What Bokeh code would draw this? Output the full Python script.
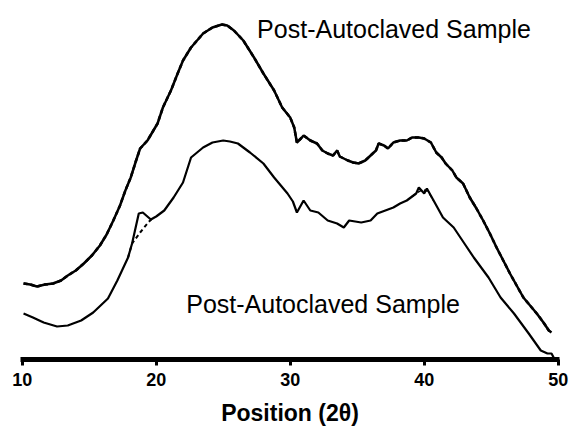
from bokeh.plotting import figure
from bokeh.models import Range1d, FixedTicker
from bokeh.core.properties import value
from bokeh.embed import file_html
from bokeh.resources import INLINE

# Upper pattern (intensity, arbitrary units)
upper_x = [10.1, 10.6, 11.1, 11.7, 12.3, 12.9, 13.4, 14.0, 14.6, 15.2, 15.8, 16.3, 16.8, 17.3, 17.7,
           18.1, 18.5, 18.8, 19.35, 20.1, 20.5, 21.1, 21.6, 22.0, 22.6, 23.5, 24.2, 24.9, 25.3, 25.8,
           26.5, 27.3, 28.0, 28.8, 29.4, 30.0, 30.3, 30.5, 30.8, 31.0, 31.5, 32.0, 32.4, 32.8, 33.2,
           33.5, 33.7, 34.3, 34.7, 35.1, 35.6, 36.0, 36.4, 36.6, 37.0, 37.3, 37.7, 38.2, 38.7, 39.1,
           39.6, 40.0, 40.5, 40.9, 41.3, 41.6, 42.1, 42.4, 42.9, 43.4, 43.9, 44.4, 44.9, 45.4, 45.9,
           46.4, 46.9, 47.4, 47.9, 48.4, 48.9, 49.3, 49.5]
upper_y = [76, 75, 73, 75, 76, 79, 84, 89, 96, 104, 114, 125, 139, 154, 169,
           182, 199, 211, 219, 236, 252, 269, 286, 299, 312, 326, 332, 335, 334, 329,
           319, 302, 286, 269, 252, 242, 232, 217, 221, 224, 219, 216, 209, 206, 204,
           209, 203, 199, 197, 196, 199, 204, 209, 216, 214, 211, 217, 219, 219, 222,
           222, 221, 217, 207, 202, 196, 189, 182, 176, 162, 151, 139, 126, 112, 99,
           86, 74, 62, 54, 46, 37, 29, 27]

# Lower pattern
lower_x = [10.1, 10.8, 11.6, 12.6, 13.4, 14.4, 15.3, 16.4, 17.1, 17.9, 18.2, 18.4, 18.7, 19.0,
           19.6, 20.0, 20.6, 21.3, 22.0, 22.6, 23.5, 24.2, 25.0, 25.5, 26.1, 27.0, 28.0, 28.8,
           29.3, 29.8, 30.2, 30.5, 31.0, 31.5, 32.1, 32.8, 33.5, 34.0, 34.4, 35.3, 36.0, 36.5,
           37.1, 37.7, 38.2, 38.7, 39.1, 39.4, 39.6, 40.0, 40.2, 40.7, 41.4, 42.2, 43.0, 43.7,
           44.8, 45.7, 46.7, 47.8, 48.7, 49.2, 49.5, 49.7]
lower_y = [46, 42, 37, 33, 34, 39, 47, 61, 79, 102, 116, 128, 146, 147,
           140, 143, 149, 162, 177, 202, 212, 217, 219, 218, 216, 207, 196, 182,
           174, 166, 158, 147, 159, 149, 147, 139, 136, 132, 139, 137, 139, 146,
           149, 152, 156, 159, 163, 166, 172, 166, 171, 159, 142, 132, 116, 102,
           82, 62, 46, 26, 9, 6, 6, 1]

# Dashed (fitted) segments of the lower pattern where they depart from the solid trace
dash1_x = [17.9, 18.2, 18.8, 19.4, 19.7]
dash1_y = [102, 116, 127, 137, 141]
dash2_x = [39.1, 39.5, 39.9, 40.3, 40.7]
dash2_y = [163, 167, 170, 168, 159]

ticks = [10, 20, 30, 40, 50]
label_text = "Post-Autoclaved Sample"
upper_label_pos = (27.53, 331)
lower_label_pos = (22.24, 56)

p = figure(width=571, height=429, output_backend="svg", toolbar_location=None,
           x_range=Range1d(9.873, 50.097), y_range=Range1d(0, 359),
           y_axis_location=None, min_border_left=20, min_border_right=12,
           min_border_top=0, min_border_bottom=70)
p.outline_line_color = None
p.xgrid.visible = False
p.ygrid.visible = False

p.line(upper_x, upper_y, line_color="black", line_width=2.5)
p.line(upper_x, upper_y, line_color="black", line_width=2.5, line_dash="4 3")
p.line(lower_x, lower_y, line_color="black", line_width=2.2)
p.line(dash1_x, dash1_y, line_color="black", line_width=2.0, line_dash="4 3")
p.line(dash2_x, dash2_y, line_color="black", line_width=1.6, line_dash="4 3")

p.text(x=[upper_label_pos[0]], y=[upper_label_pos[1]], text=[label_text],
       text_font=value("Liberation Sans"), text_font_size="25px",
       text_baseline="alphabetic", text_align="left", text_color="black")
p.text(x=[lower_label_pos[0]], y=[lower_label_pos[1]], text=[label_text],
       text_font=value("Liberation Sans"), text_font_size="25px",
       text_baseline="alphabetic", text_align="left", text_color="black")

ax = p.xaxis[0]
ax.ticker = FixedTicker(ticks=ticks)
ax.axis_line_width = 5
ax.axis_line_color = "black"
ax.major_tick_line_width = 3
ax.major_tick_line_color = "black"
ax.major_tick_in = 0
ax.major_tick_out = 6
ax.minor_tick_line_color = None
ax.major_label_standoff = 7
ax.major_label_text_font = "Liberation Sans"
ax.major_label_text_font_style = "bold"
ax.major_label_text_font_size = "18px"
ax.major_label_text_color = "black"
ax.axis_label = "Position (2θ)"
ax.axis_label_text_font = "Liberation Sans"
ax.axis_label_text_font_style = "bold"
ax.axis_label_text_font_size = "23px"
ax.axis_label_text_color = "black"
ax.axis_label_standoff = 11

open("out.html", "w").write(file_html(p, INLINE))
